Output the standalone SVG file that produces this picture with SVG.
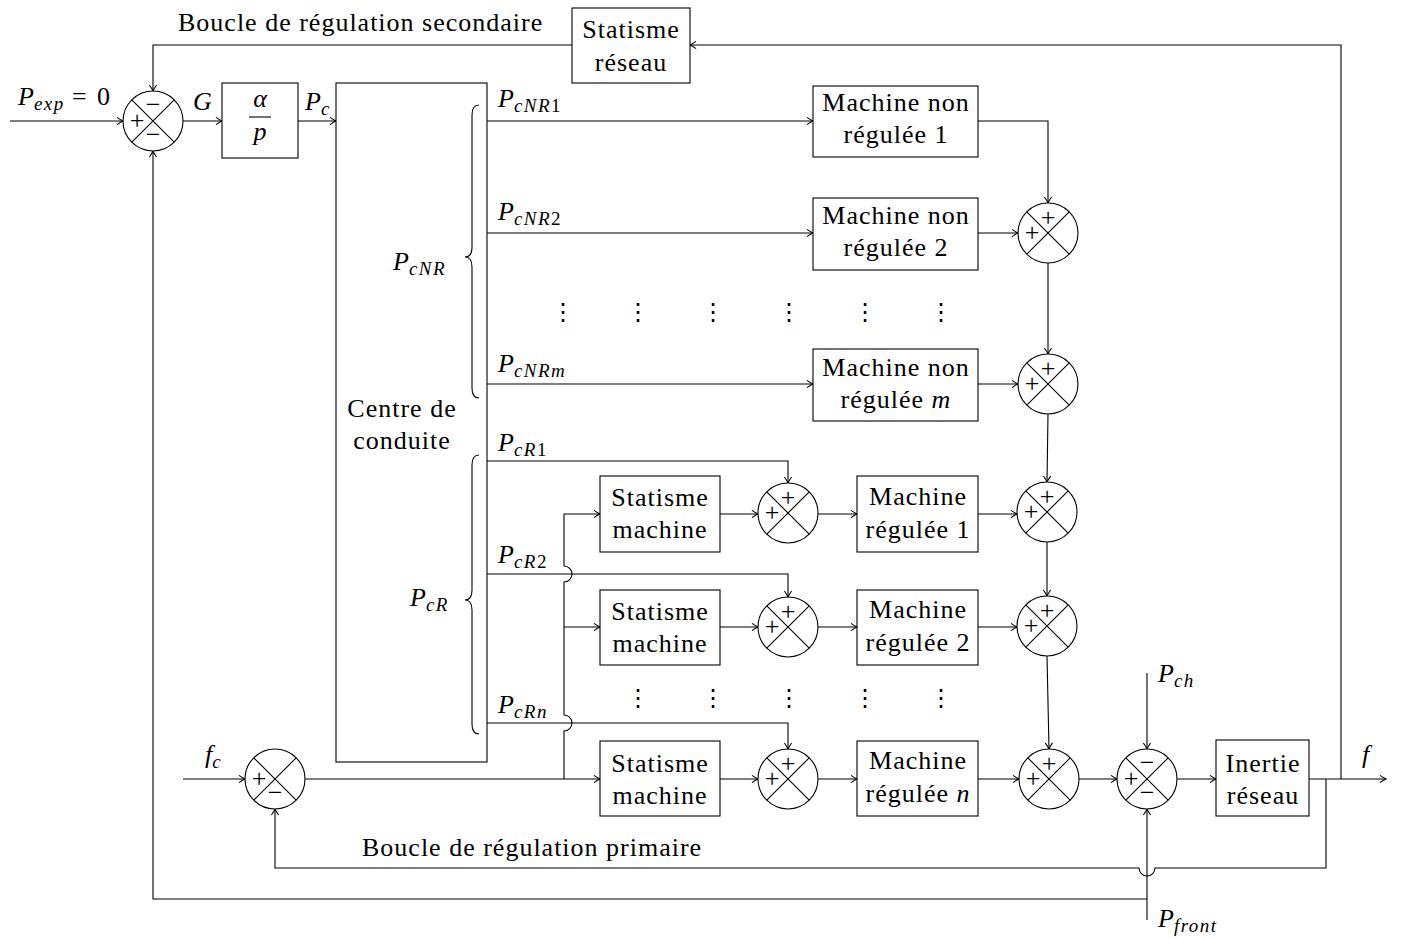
<svg xmlns="http://www.w3.org/2000/svg" xmlns:xlink="http://www.w3.org/1999/xlink" width="1401" height="938" viewBox="0 0 1401 938">
<style>
text{font-family:Liberation Serif,serif}
.ln{fill:none;stroke:#000;stroke-width:1.1}
.bx{fill:#fff;stroke:#000;stroke-width:1.1}
.t{font-size:26px;letter-spacing:1px;fill:#000}
.c{text-anchor:middle}
.m{font-size:26px;font-style:italic;fill:#000}
.s{font-size:19px;font-style:italic;letter-spacing:1.5px}
.su{font-size:19px;font-style:normal;letter-spacing:1.5px}
.sg{font-size:26px;text-anchor:middle;fill:#000}
.dt{font-family:DejaVu Sans,sans-serif;font-size:24px;text-anchor:middle;fill:#000}
</style>
<defs>
<marker id="ar" viewBox="-8 -5 10 10" markerWidth="10" markerHeight="10" refX="0" refY="0" orient="auto" markerUnits="userSpaceOnUse">
<path d="M-6,-3.6 Q-2,-0.8 0,0 Q-2,0.8 -6,3.6" fill="none" stroke="#000" stroke-width="1.1"/>
</marker>
<g id="sum">
<circle cx="0" cy="0" r="30" fill="#fff" stroke="#000" stroke-width="1.1"/>
<path d="M-21.2,-21.2 L21.2,21.2 M21.2,-21.2 L-21.2,21.2" stroke="#000" stroke-width="1.1"/>
</g>
</defs>

<g id="connectors">
<path class="ln" d="M572,45 L153,45 L153,91" marker-end="url(#ar)"/>
<path class="ln" d="M1341,779 L1341,45 L690,45" marker-end="url(#ar)"/>
<path class="ln" d="M1147,899 L153,899 L153,151" marker-end="url(#ar)"/>
<path class="ln" d="M1147,920 L1147,809" marker-end="url(#ar)"/>
<path class="ln" d="M1326,779 L1326,868 L1155,868 A8,8 0 0 1 1139,868 L275,868 L275,809" marker-end="url(#ar)"/>
<path class="ln" d="M10,121 L123,121" marker-end="url(#ar)"/>
<path class="ln" d="M183,121 L222,121" marker-end="url(#ar)"/>
<path class="ln" d="M298,121 L336,121" marker-end="url(#ar)"/>
<path class="ln" d="M487,121 L813,121" marker-end="url(#ar)"/>
<path class="ln" d="M487,233 L813,233" marker-end="url(#ar)"/>
<path class="ln" d="M487,384 L813,384" marker-end="url(#ar)"/>
<path class="ln" d="M487,461 L788,461 L788,483" marker-end="url(#ar)"/>
<path class="ln" d="M487,574 L788,574 L788,597" marker-end="url(#ar)"/>
<path class="ln" d="M487,723 L788,723 L788,749" marker-end="url(#ar)"/>
<path class="ln" d="M183,779 L245,779" marker-end="url(#ar)"/>
<path class="ln" d="M305,779 L600,779" marker-end="url(#ar)"/>
<path class="ln" d="M564,779 L564,731 A8,8 0 0 0 564,715 L564,582 A8,8 0 0 0 564,566 L564,514 L600,514" marker-end="url(#ar)"/>
<path class="ln" d="M564,627 L600,627" marker-end="url(#ar)"/>
<path class="ln" d="M720,514 L758,514" marker-end="url(#ar)"/>
<path class="ln" d="M720,627 L758,627" marker-end="url(#ar)"/>
<path class="ln" d="M720,779 L758,779" marker-end="url(#ar)"/>
<path class="ln" d="M818,514 L857,514" marker-end="url(#ar)"/>
<path class="ln" d="M818,627 L857,627" marker-end="url(#ar)"/>
<path class="ln" d="M818,779 L857,779" marker-end="url(#ar)"/>
<path class="ln" d="M978,121 L1048,121 L1048,203" marker-end="url(#ar)"/>
<path class="ln" d="M978,233 L1018,233" marker-end="url(#ar)"/>
<path class="ln" d="M978,384 L1018,384" marker-end="url(#ar)"/>
<path class="ln" d="M978,514 L1017,514" marker-end="url(#ar)"/>
<path class="ln" d="M978,627 L1017,627" marker-end="url(#ar)"/>
<path class="ln" d="M978,779 L1019,779" marker-end="url(#ar)"/>
<path class="ln" d="M1048,263 L1048,354" marker-end="url(#ar)"/>
<path class="ln" d="M1048,414 L1047,482" marker-end="url(#ar)"/>
<path class="ln" d="M1047,542 L1047,596" marker-end="url(#ar)"/>
<path class="ln" d="M1047,656 L1049,749" marker-end="url(#ar)"/>
<path class="ln" d="M1079,779 L1117,779" marker-end="url(#ar)"/>
<path class="ln" d="M1147,673 L1147,749" marker-end="url(#ar)"/>
<path class="ln" d="M1177,779 L1216,779" marker-end="url(#ar)"/>
<path class="ln" d="M1309,779 L1386,779" marker-end="url(#ar)"/>
</g>

<g id="sum-top">
<use xlink:href="#sum" x="153" y="121"/>
<text font-family="Liberation Serif" class="sg" x="153" y="113">−</text>
<text font-family="Liberation Serif" class="sg" x="137" y="129">+</text>
<text font-family="Liberation Serif" class="sg" x="153" y="143">−</text>
</g>
<g id="gain">
<rect class="bx" x="222" y="83" width="76" height="75"/>
<text font-family="Liberation Serif" class="m c" x="260" y="107">α</text>
<line class="ln" x1="249" y1="117" x2="271" y2="117"/>
<text font-family="Liberation Serif" class="m c" x="260" y="140">p</text>
</g>
<g id="centre">
<rect class="bx" x="336" y="83" width="151" height="679"/>
<text font-family="Liberation Serif" class="t c" x="402" y="417">Centre de</text>
<text font-family="Liberation Serif" class="t c" x="402" y="449">conduite</text>
</g>
<g id="braces">
<path class="ln" d="M479,105 Q472,105 472,115 L472,247 Q472,257 465,257 Q472,257 472,267 L472,388 Q472,398 479,398"/>
<path class="ln" d="M479,455 Q472,455 472,465 L472,590 Q472,600 465,600 Q472,600 472,610 L472,724 Q472,734 479,734"/>
</g>
<g id="statisme-reseau">
<rect class="bx" x="572" y="8" width="118" height="75"/>
<text font-family="Liberation Serif" class="t c" x="631" y="38">Statisme</text>
<text font-family="Liberation Serif" class="t c" x="631" y="71">réseau</text>
</g>
<g id="mnr1">
<rect class="bx" x="813" y="86" width="165" height="71"/>
<text font-family="Liberation Serif" class="t c" x="896" y="111">Machine non</text>
<text font-family="Liberation Serif" class="t c" x="896" y="143">régulée 1</text>
</g>
<g id="mnr2">
<rect class="bx" x="813" y="198" width="165" height="72"/>
<text font-family="Liberation Serif" class="t c" x="896" y="224">Machine non</text>
<text font-family="Liberation Serif" class="t c" x="896" y="256">régulée 2</text>
</g>
<g id="mnrm">
<rect class="bx" x="813" y="349" width="165" height="72"/>
<text font-family="Liberation Serif" class="t c" x="896" y="376">Machine non</text>
<text font-family="Liberation Serif" class="t c" x="896" y="408">régulée <tspan font-style="italic">m</tspan></text>
</g>
<g id="sm1">
<rect class="bx" x="600" y="476" width="120" height="76"/>
<text font-family="Liberation Serif" class="t c" x="660" y="506">Statisme</text>
<text font-family="Liberation Serif" class="t c" x="660" y="538">machine</text>
</g>
<g id="sm2">
<rect class="bx" x="600" y="590" width="120" height="75"/>
<text font-family="Liberation Serif" class="t c" x="660" y="620">Statisme</text>
<text font-family="Liberation Serif" class="t c" x="660" y="652">machine</text>
</g>
<g id="smn">
<rect class="bx" x="600" y="741" width="120" height="75"/>
<text font-family="Liberation Serif" class="t c" x="660" y="772">Statisme</text>
<text font-family="Liberation Serif" class="t c" x="660" y="804">machine</text>
</g>
<g id="sum-m1">
<use xlink:href="#sum" x="788" y="513"/>
<text font-family="Liberation Serif" class="sg" x="788" y="506">+</text>
<text font-family="Liberation Serif" class="sg" x="772" y="521">+</text>
</g>
<g id="sum-m2">
<use xlink:href="#sum" x="788" y="627"/>
<text font-family="Liberation Serif" class="sg" x="788" y="620">+</text>
<text font-family="Liberation Serif" class="sg" x="772" y="635">+</text>
</g>
<g id="sum-mn">
<use xlink:href="#sum" x="788" y="779"/>
<text font-family="Liberation Serif" class="sg" x="788" y="772">+</text>
<text font-family="Liberation Serif" class="sg" x="772" y="787">+</text>
</g>
<g id="mr1">
<rect class="bx" x="857" y="476" width="121" height="76"/>
<text font-family="Liberation Serif" class="t c" x="918" y="505">Machine</text>
<text font-family="Liberation Serif" class="t c" x="918" y="538">régulée 1</text>
</g>
<g id="mr2">
<rect class="bx" x="857" y="590" width="121" height="75"/>
<text font-family="Liberation Serif" class="t c" x="918" y="618">Machine</text>
<text font-family="Liberation Serif" class="t c" x="918" y="651">régulée 2</text>
</g>
<g id="mrn">
<rect class="bx" x="857" y="741" width="121" height="75"/>
<text font-family="Liberation Serif" class="t c" x="918" y="769">Machine</text>
<text font-family="Liberation Serif" class="t c" x="918" y="802">régulée <tspan font-style="italic">n</tspan></text>
</g>
<g id="sum-a">
<use xlink:href="#sum" x="1048" y="233"/>
<text font-family="Liberation Serif" class="sg" x="1048" y="226">+</text>
<text font-family="Liberation Serif" class="sg" x="1032" y="241">+</text>
</g>
<g id="sum-b">
<use xlink:href="#sum" x="1048" y="384"/>
<text font-family="Liberation Serif" class="sg" x="1048" y="377">+</text>
<text font-family="Liberation Serif" class="sg" x="1032" y="392">+</text>
</g>
<g id="sum-c">
<use xlink:href="#sum" x="1047" y="512"/>
<text font-family="Liberation Serif" class="sg" x="1047" y="505">+</text>
<text font-family="Liberation Serif" class="sg" x="1031" y="520">+</text>
</g>
<g id="sum-d">
<use xlink:href="#sum" x="1047" y="626"/>
<text font-family="Liberation Serif" class="sg" x="1047" y="619">+</text>
<text font-family="Liberation Serif" class="sg" x="1031" y="634">+</text>
</g>
<g id="sum-e">
<use xlink:href="#sum" x="1049" y="779"/>
<text font-family="Liberation Serif" class="sg" x="1049" y="772">+</text>
<text font-family="Liberation Serif" class="sg" x="1033" y="787">+</text>
</g>
<g id="sum-f">
<use xlink:href="#sum" x="1147" y="779"/>
<text font-family="Liberation Serif" class="sg" x="1147" y="771">−</text>
<text font-family="Liberation Serif" class="sg" x="1131" y="787">+</text>
<text font-family="Liberation Serif" class="sg" x="1147" y="801">−</text>
</g>
<g id="sum-fc">
<use xlink:href="#sum" x="275" y="779"/>
<text font-family="Liberation Serif" class="sg" x="259" y="787">+</text>
<text font-family="Liberation Serif" class="sg" x="275" y="801">−</text>
</g>
<g id="inertie">
<rect class="bx" x="1216" y="740" width="93" height="76"/>
<text font-family="Liberation Serif" class="t c" x="1263" y="772">Inertie</text>
<text font-family="Liberation Serif" class="t c" x="1263" y="804">réseau</text>
</g>

<g id="dots">
<text font-family="DejaVu Sans" class="dt" x="563" y="320">⋮</text>
<text font-family="DejaVu Sans" class="dt" x="638" y="320">⋮</text>
<text font-family="DejaVu Sans" class="dt" x="713" y="320">⋮</text>
<text font-family="DejaVu Sans" class="dt" x="789" y="320">⋮</text>
<text font-family="DejaVu Sans" class="dt" x="865" y="320">⋮</text>
<text font-family="DejaVu Sans" class="dt" x="941" y="320">⋮</text>
<text font-family="DejaVu Sans" class="dt" x="638" y="706">⋮</text>
<text font-family="DejaVu Sans" class="dt" x="713" y="706">⋮</text>
<text font-family="DejaVu Sans" class="dt" x="789" y="706">⋮</text>
<text font-family="DejaVu Sans" class="dt" x="865" y="706">⋮</text>
<text font-family="DejaVu Sans" class="dt" x="941" y="706">⋮</text>
</g>

<g id="labels">
<text font-family="Liberation Serif" class="t" x="178" y="31">Boucle de régulation secondaire</text>
<text font-family="Liberation Serif" class="t" x="362" y="856">Boucle de régulation primaire</text>
<text font-family="Liberation Serif" class="m" x="18" y="105">P<tspan class="s" dy="5">exp</tspan><tspan font-style="normal" x="72" dy="-5">=</tspan><tspan font-style="normal" x="97">0</tspan></text>
<text font-family="Liberation Serif" class="m" x="193" y="110">G</text>
<text font-family="Liberation Serif" class="m" x="305" y="110">P<tspan class="s" dy="5">c</tspan></text>
<text font-family="Liberation Serif" class="m" x="498" y="107">P<tspan class="s" dy="5">cNR</tspan><tspan class="su">1</tspan></text>
<text font-family="Liberation Serif" class="m" x="498" y="220">P<tspan class="s" dy="5">cNR</tspan><tspan class="su">2</tspan></text>
<text font-family="Liberation Serif" class="m" x="498" y="372">P<tspan class="s" dy="5">cNRm</tspan></text>
<text font-family="Liberation Serif" class="m" x="498" y="451">P<tspan class="s" dy="5">cR</tspan><tspan class="su">1</tspan></text>
<text font-family="Liberation Serif" class="m" x="498" y="563">P<tspan class="s" dy="5">cR</tspan><tspan class="su">2</tspan></text>
<text font-family="Liberation Serif" class="m" x="498" y="713">P<tspan class="s" dy="5">cRn</tspan></text>
<text font-family="Liberation Serif" class="m" x="393" y="270">P<tspan class="s" dy="5">cNR</tspan></text>
<text font-family="Liberation Serif" class="m" x="410" y="606">P<tspan class="s" dy="5">cR</tspan></text>
<text font-family="Liberation Serif" class="m" x="205" y="763">f<tspan class="s" dy="5">c</tspan></text>
<text font-family="Liberation Serif" class="m" x="1158" y="682">P<tspan class="s" dy="5">ch</tspan></text>
<text font-family="Liberation Serif" class="m" x="1158" y="927">P<tspan class="s" dy="5">front</tspan></text>
<text font-family="Liberation Serif" class="m" x="1362" y="763">f</text>
</g>
</svg>
